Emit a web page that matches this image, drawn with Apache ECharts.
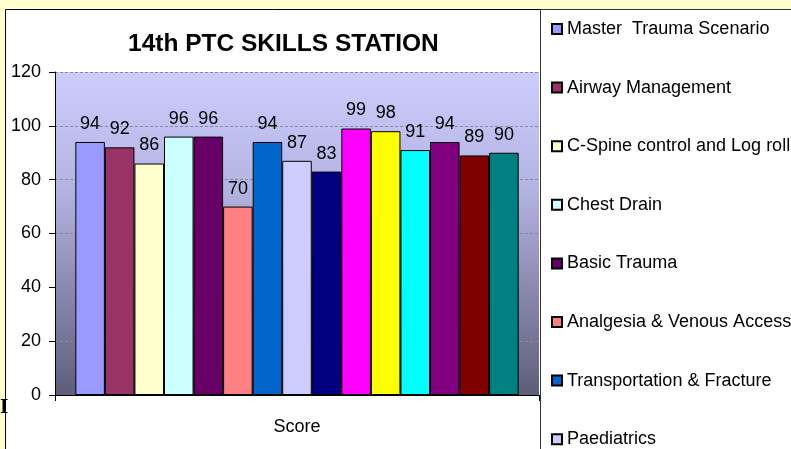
<!DOCTYPE html>
<html>
<head>
<meta charset="utf-8">
<script src="https://cdn.jsdelivr.net/npm/echarts@6/dist/echarts.min.js"></script>
<style>
  html, body { margin: 0; padding: 0; background: #FFFFCC; }
  #chart { width: 791px; height: 449px; }
</style>
</head>
<body>
<div id="chart"></div>
<script>
// categories / series data
const categories = ['Score'];
const stationNames = [
  'Master  Trauma Scenario',
  'Airway Management',
  'C-Spine control and Log roll',
  'Chest Drain',
  'Basic Trauma',
  'Analgesia & Venous Access',
  'Transportation & Fracture',
  'Paediatrics',
  'Head Injury',
  'Burns',
  'Spinal Injury',
  'Obstetric Trauma',
  'Triage',
  'Disaster Management',
  'Mock Scenario'
];
const stationScores = [94, 92, 86, 96, 96, 70, 94, 87, 83, 99, 98, 91, 94, 89, 90];
// excel default fill palette
const stationColors = [
  '#9999FF', '#993366', '#FFFFCC', '#CCFFFF', '#660066', '#FF8080', '#0066CC', '#CCCCFF',
  '#000080', '#FF00FF', '#FFFF00', '#00FFFF', '#800080', '#800000', '#008080'
];
const yTicks = { min: 0, max: 120, interval: 20 };

const FONT = '"Liberation Sans", Arial, sans-serif';

const chart = echarts.init(document.getElementById('chart'));

const series = stationNames.map((name, i) => ({
  name,
  type: 'bar',
  data: [stationScores[i]],
  barGap: 0,
  barCategoryGap: '8.4%',
  itemStyle: { color: stationColors[i], borderColor: '#000', borderWidth: 1 },
  label: {
    show: true,
    position: 'top',
    distance: 9,
    color: '#000',
    fontFamily: FONT,
    fontSize: 18
  },
  emphasis: { disabled: true }
}));

const option = {
  backgroundColor: '#FFFFCC',
  animation: false,
  color: stationColors,
  graphic: [
    // white chart panel
    { type: 'rect', z: -10, shape: { x: 5.5, y: 9.5, width: 536, height: 450 },
      style: { fill: '#fff', stroke: '#000', lineWidth: 1 } },
    // legend box
    { type: 'rect', z: -9, shape: { x: 540.5, y: 9.5, width: 260, height: 450 },
      style: { fill: '#fff', stroke: '#333', lineWidth: 1 } },
    // stray glyph at the left edge
    { type: 'text', z: 5, left: 0, top: 399,
      style: { text: 'I', font: 'bold 18px "DejaVu Serif", serif', fill: '#000' } }
  ],
  title: {
    text: '14th PTC SKILLS STATION',
    left: 128,
    top: 32,
    padding: 0,
    textStyle: { fontFamily: FONT, fontSize: 24.5, fontWeight: 'bold', color: '#000' }
  },
  legend: {
    orient: 'vertical',
    left: 546,
    top: 15,
    height: 1200,
    itemWidth: 10,
    itemHeight: 10,
    itemGap: 40.6,
    icon: 'rect',
    textStyle: { fontFamily: FONT, fontSize: 18, color: '#000', lineHeight: 18 },
    selectedMode: false
  },
  grid: {
    left: 55, right: 252, top: 72, bottom: 54,
    show: true,
    borderWidth: 0,
    backgroundColor: new echarts.graphic.LinearGradient(0, 0, 0, 1, [
      { offset: 0, color: '#CCCCFF' },
      { offset: 0.35, color: '#B5B5E3' },
      { offset: 1, color: '#5E5E7A' }
    ])
  },
  xAxis: {
    type: 'category',
    data: categories,
    axisLine: { lineStyle: { color: '#000', width: 1 } },
    axisTick: { show: true, length: 6, lineStyle: { color: '#000' } },
    axisLabel: { color: '#000', fontFamily: FONT, fontSize: 18, margin: 23 }
  },
  yAxis: {
    type: 'value',
    min: yTicks.min,
    max: yTicks.max,
    interval: yTicks.interval,
    axisLine: { show: true, lineStyle: { color: '#000', width: 1 } },
    axisTick: { show: true, length: 6, lineStyle: { color: '#000' } },
    axisLabel: { color: '#000', fontFamily: FONT, fontSize: 18, margin: 14 },
    splitLine: { show: true, lineStyle: { color: '#8A8A9A', type: [3, 2], width: 1 } }
  },
  series
};

chart.setOption(option);
</script>
</body>
</html>
